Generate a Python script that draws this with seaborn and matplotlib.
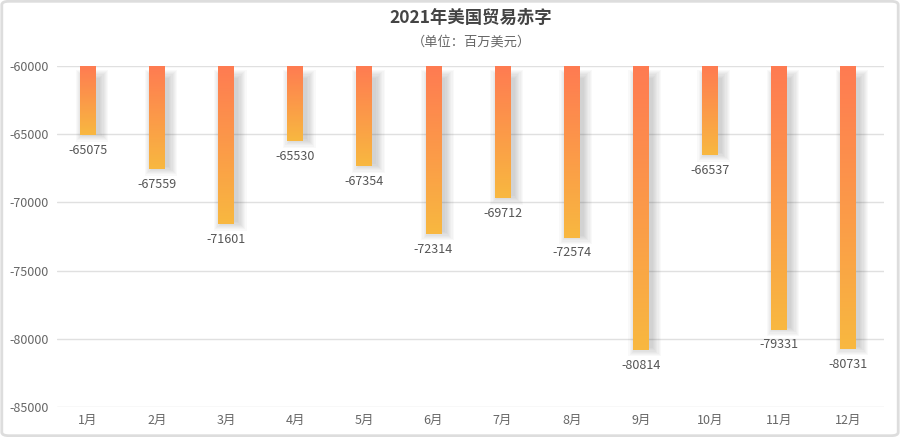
import numpy as np
import pandas as pd
import seaborn as sns
import matplotlib.pyplot as plt
from matplotlib.colors import LinearSegmentedColormap
from matplotlib.patches import Rectangle, FancyBboxPatch

# data
months = ["1月", "2月", "3月", "4月", "5月", "6月", "7月", "8月", "9月", "10月", "11月", "12月"]
deficit = [-65075, -67559, -71601, -65530, -67354, -72314, -69712, -72574, -80814, -66537, -79331, -80731]
y_ticks = [-85000, -80000, -75000, -70000, -65000, -60000]
base = -60000

sns.set_theme(style="white")
plt.rcParams["font.family"] = ["Noto Sans CJK SC", "DejaVu Sans"]

df = pd.DataFrame({"month": months, "value": deficit})

fig = plt.figure(figsize=(9, 4.37), dpi=100)
ax = fig.add_axes([57 / 900, 0.0686, 827 / 900, 0.7804])

sns.barplot(data=df, x="month", y="value", width=0.23, color="#f8b640", ax=ax, zorder=3)

xlim = (-0.449, 11.521)
ax.set_ylim(-85000, -60000)
ax.set_xlim(*xlim)
ax.set_yticks(y_ticks)
ax.set_yticklabels([str(t) for t in y_ticks])
ax.set_xlabel("")
ax.set_ylabel("")
for s in ax.spines.values():
    s.set_visible(False)
ax.tick_params(axis="both", length=0, labelsize=9, colors="#666666")
ax.tick_params(axis="y", pad=6)
ax.tick_params(axis="x", pad=5)
ax.yaxis.grid(True, color="#e0e0e0", linewidth=1)
ax.set_axisbelow(True)

cmap = LinearSegmentedColormap.from_list("grad", ["#ff7b52", "#f8b840"])
grad = np.linspace(0, 1, 256).reshape(-1, 1)

px_x = 1.0 / 69.1
px_y = 25000 / 341.0

for bar, val in zip(ax.patches, deficit):
    x0 = bar.get_x()
    w = bar.get_width()
    bar.set_facecolor("none")
    bar.set_edgecolor("none")
    # soft shadow to the lower right
    for k in range(8):
        e = k * 1.2
        sh = Rectangle((x0 + 4 * px_x - e * px_x, base - 12 * px_y + e * px_y),
                       w + 2 * e * px_x, (val - base) + 14 * px_y - 2 * e * px_y,
                       facecolor="#555555", alpha=0.035, edgecolor="none", zorder=2)
        ax.add_patch(sh)
    clip = Rectangle((x0, val), w, base - val, transform=ax.transData)
    im = ax.imshow(grad, cmap=cmap, aspect="auto", extent=(x0, x0 + w, val, base),
                   origin="upper", zorder=4)
    im.set_clip_path(clip)
    ax.annotate(str(val), (x0 + w / 2, val), xytext=(0, -11), textcoords="offset points",
                ha="center", va="center", fontsize=9, color="#555555", zorder=5)

ax.set_xlim(*xlim)
ax.set_ylim(-85000, -60000)

fig.text(0.5233, 1 - 18 / 437, "2021年美国贸易赤字", ha="center", va="center",
         fontsize=12.5, fontweight="bold", color="#444444")
fig.text(0.5233, 1 - 42 / 437, "（单位：百万美元）", ha="center", va="center",
         fontsize=9.5, color="#666666")

frame = FancyBboxPatch((0.002, 0.003), 0.996, 0.994, boxstyle="round,pad=0,rounding_size=0.008",
                       transform=fig.transFigure, facecolor="none", edgecolor="#dddddd",
                       linewidth=2, zorder=10)
fig.patches.append(frame)

fig.savefig("out.png", dpi=100)
